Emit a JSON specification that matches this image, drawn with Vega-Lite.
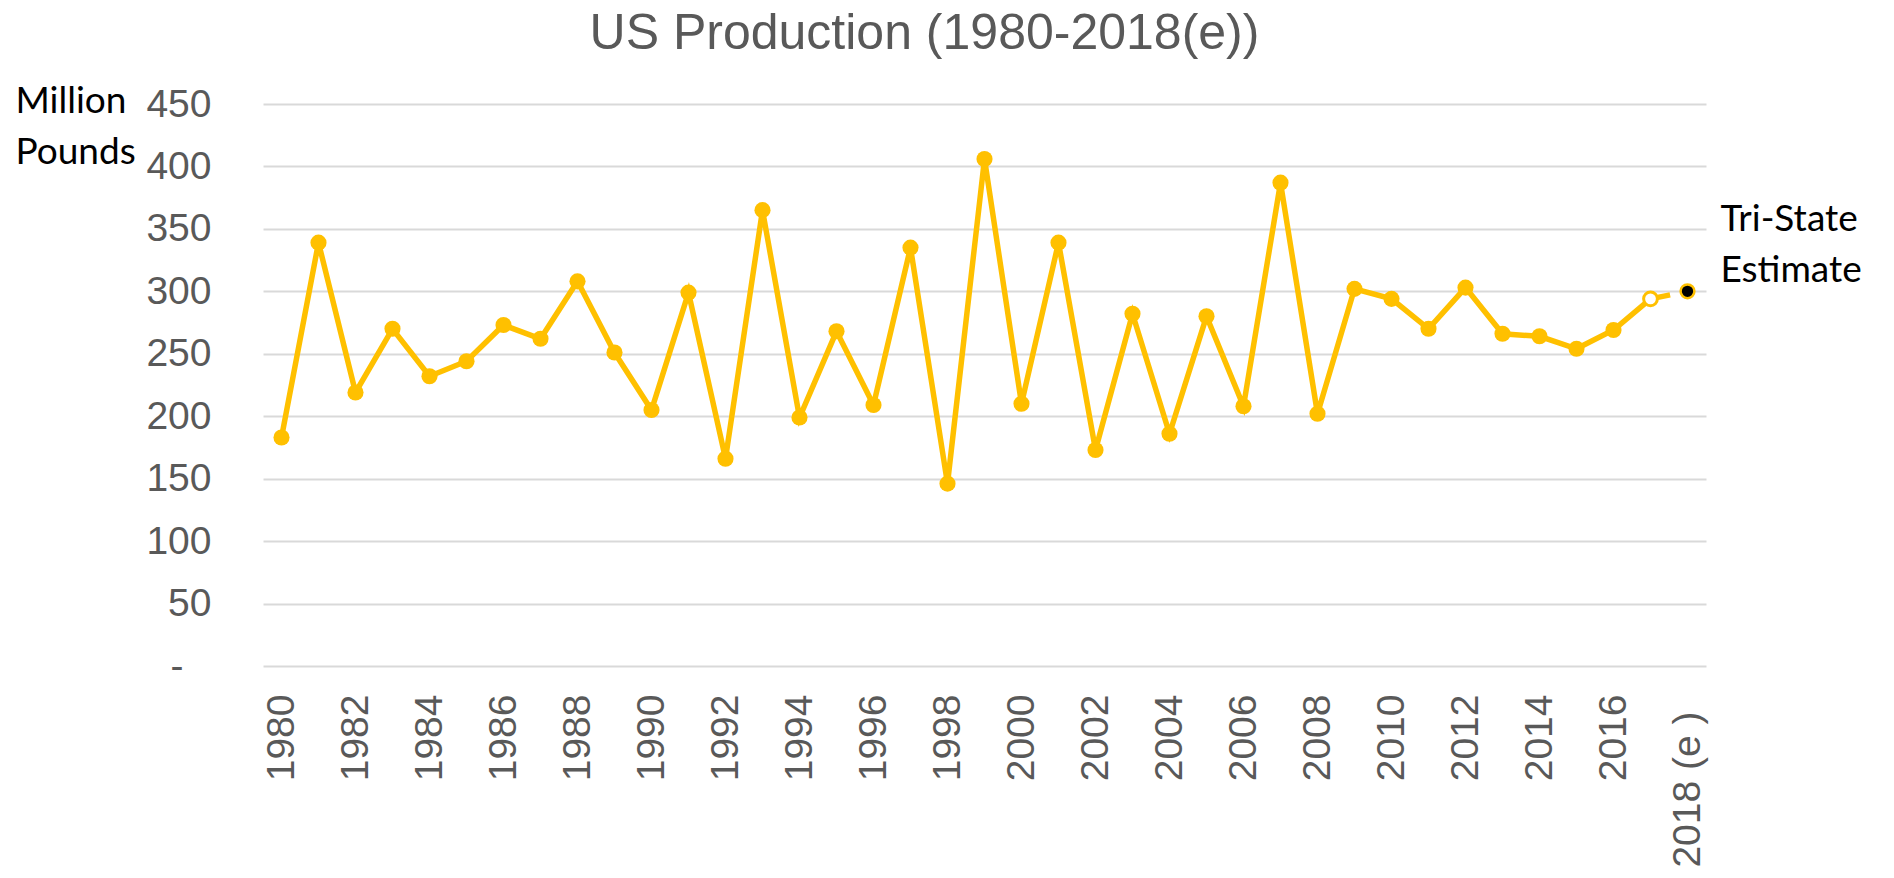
{
  "$schema": "https://vega.github.io/schema/vega-lite/v6.json",
  "width": 1443,
  "height": 562,
  "autosize": {"type": "none"},
  "padding": {"left": 263, "top": 104, "right": 188, "bottom": 212},
  "background": "white",
  "config": {"view": {"stroke": null}},
  "title": {
    "text": "US Production (1980-2018(e))",
    "font": "Liberation Sans",
    "fontSize": 50,
    "fontWeight": "normal",
    "color": "#595959",
    "anchor": "middle",
    "frame": "group",
    "baseline": "alphabetic",
    "dx": -60,
    "offset": -17
  },
  "data": {
    "values": [
      {"year": "1980", "value": 183, "kind": "actual"},
      {"year": "1981", "value": 339, "kind": "actual"},
      {"year": "1982", "value": 219, "kind": "actual"},
      {"year": "1983", "value": 270, "kind": "actual"},
      {"year": "1984", "value": 232, "kind": "actual"},
      {"year": "1985", "value": 244, "kind": "actual"},
      {"year": "1986", "value": 273, "kind": "actual"},
      {"year": "1987", "value": 262, "kind": "actual"},
      {"year": "1988", "value": 308, "kind": "actual"},
      {"year": "1989", "value": 251, "kind": "actual"},
      {"year": "1990", "value": 205, "kind": "actual"},
      {"year": "1991", "value": 299, "kind": "actual"},
      {"year": "1992", "value": 166, "kind": "actual"},
      {"year": "1993", "value": 365, "kind": "actual"},
      {"year": "1994", "value": 199, "kind": "actual"},
      {"year": "1995", "value": 268, "kind": "actual"},
      {"year": "1996", "value": 209, "kind": "actual"},
      {"year": "1997", "value": 335, "kind": "actual"},
      {"year": "1998", "value": 146, "kind": "actual"},
      {"year": "1999", "value": 406, "kind": "actual"},
      {"year": "2000", "value": 210, "kind": "actual"},
      {"year": "2001", "value": 339, "kind": "actual"},
      {"year": "2002", "value": 173, "kind": "actual"},
      {"year": "2003", "value": 282, "kind": "actual"},
      {"year": "2004", "value": 186, "kind": "actual"},
      {"year": "2005", "value": 280, "kind": "actual"},
      {"year": "2006", "value": 208, "kind": "actual"},
      {"year": "2007", "value": 387, "kind": "actual"},
      {"year": "2008", "value": 202, "kind": "actual"},
      {"year": "2009", "value": 302, "kind": "actual"},
      {"year": "2010", "value": 294, "kind": "actual"},
      {"year": "2011", "value": 270, "kind": "actual"},
      {"year": "2012", "value": 303, "kind": "actual"},
      {"year": "2013", "value": 266, "kind": "actual"},
      {"year": "2014", "value": 264, "kind": "actual"},
      {"year": "2015", "value": 254, "kind": "actual"},
      {"year": "2016", "value": 269, "kind": "actual"},
      {"year": "2017", "value": 294, "kind": "hollow"},
      {"year": "2018 (e )", "value": 300, "kind": "estimate"}
    ]
  },
  "encoding": {
    "x": {
      "field": "year",
      "type": "ordinal",
      "scale": {"type": "point", "padding": 0.5},
      "axis": {
        "title": null,
        "labelAngle": -90,
        "labelFont": "Liberation Sans",
        "labelFontSize": 39,
        "labelColor": "#595959",
        "labelPadding": {"condition": {"test": "datum.value == '2018 (e )'", "value": 45}, "value": 28},
        "labelExpr": "parseInt(datum.label) % 2 == 0 ? datum.label : ''",
        "labelOverlap": false,
        "domain": false,
        "ticks": false,
        "grid": false
      }
    },
    "y": {
      "field": "value",
      "type": "quantitative",
      "scale": {"domain": [0, 450], "nice": false},
      "axis": {
        "values": [0, 50, 100, 150, 200, 250, 300, 350, 400, 450],
        "title": ["Million", "Pounds"],
        "titleFont": "Lato",
        "titleFontSize": 37,
        "titleFontWeight": "normal",
        "titleColor": "#000000",
        "titleAngle": 0,
        "titleAlign": "left",
        "titleBaseline": "top",
        "titleLineHeight": 51,
        "titleX": -248,
        "titleY": -21,
        "labelFont": "Liberation Sans",
        "labelFontSize": 39,
        "labelColor": "#595959",
        "labelExpr": "datum.value == 0 ? '-' : datum.label",
        "labelPadding": {"condition": {"test": "datum.value == 0", "value": 80}, "value": 52},
        "domain": false,
        "ticks": false,
        "grid": true,
        "gridColor": "#D9D9D9",
        "gridWidth": 2
      }
    }
  },
  "layer": [
    {
      "transform": [{"filter": "datum.kind != 'estimate'"}],
      "mark": {"type": "line", "color": "#FFC000", "strokeWidth": 5.5}
    },
    {
      "transform": [{"filter": "datum.kind != 'actual'"}],
      "mark": {"type": "line", "color": "#FFC000", "strokeWidth": 5.5, "strokeDash": [20, 14]}
    },
    {
      "transform": [{"filter": "datum.kind == 'actual'"}],
      "mark": {"type": "point", "shape": "circle", "filled": true, "color": "#FFC000", "size": 260, "opacity": 1}
    },
    {
      "transform": [{"filter": "datum.kind == 'hollow'"}],
      "mark": {"type": "point", "shape": "circle", "filled": true, "fill": "white", "stroke": "#FFC000", "strokeWidth": 3, "size": 190, "opacity": 1}
    },
    {
      "transform": [{"filter": "datum.kind == 'estimate'"}],
      "mark": {"type": "point", "shape": "circle", "filled": true, "fill": "black", "stroke": "#FFC000", "strokeWidth": 2.5, "size": 190, "opacity": 1}
    },
    {
      "transform": [{"filter": "datum.kind == 'estimate'"}],
      "mark": {
        "type": "text",
        "text": ["Tri-State", "Estimate"],
        "font": "Lato",
        "fontSize": 37,
        "color": "#000000",
        "align": "left",
        "baseline": "top",
        "lineHeight": 51,
        "dx": 33,
        "dy": -89
      }
    }
  ]
}
